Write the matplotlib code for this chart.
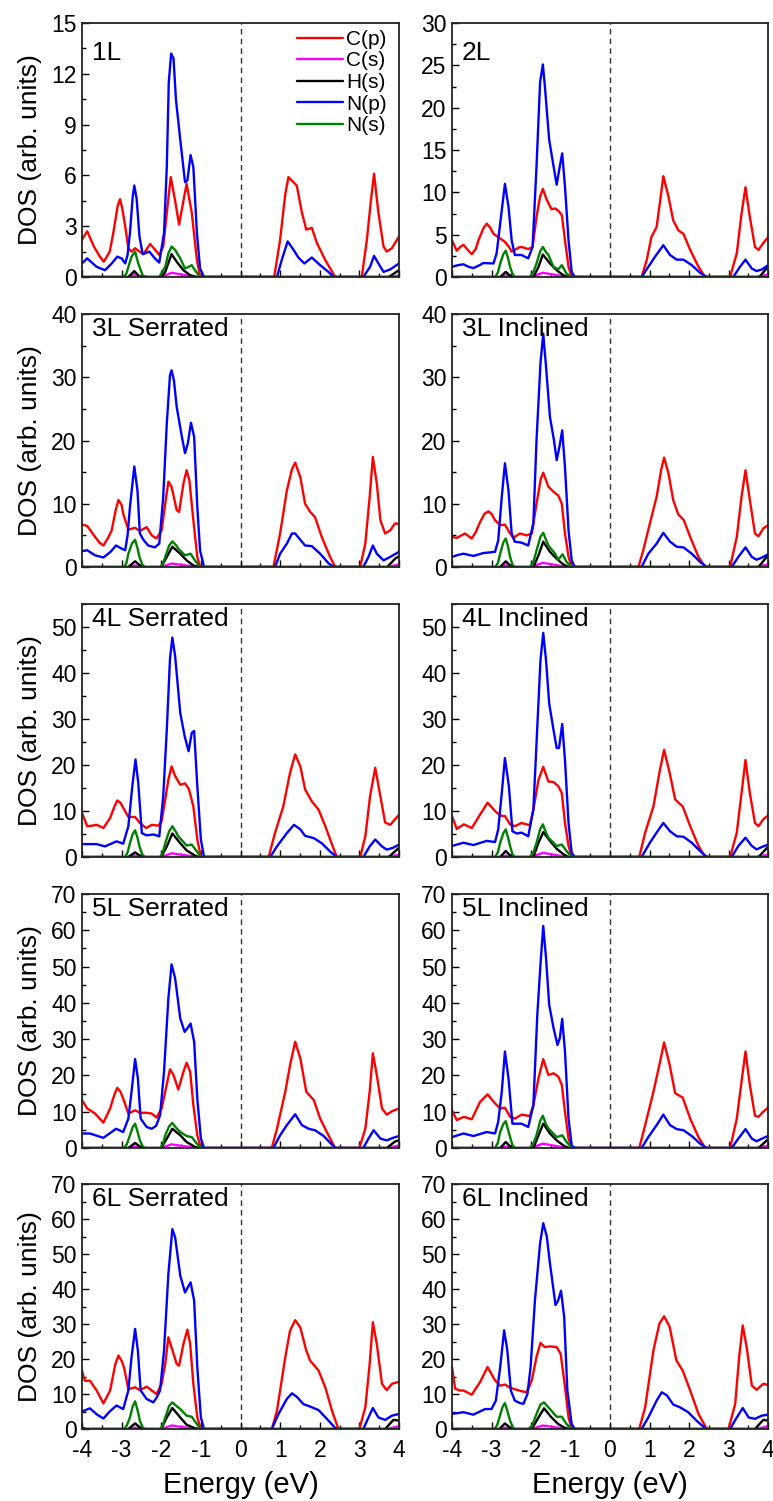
import matplotlib
matplotlib.use('Agg')
import matplotlib.pyplot as plt
from matplotlib.ticker import MultipleLocator

plt.rcParams['font.family'] = ['Liberation Sans', 'DejaVu Sans']
plt.rcParams['axes.unicode_minus'] = False

# ---------------- data: (energy eV, DOS) pairs ----------------
# 1L
CP_1L = [(-4.0,2.2),(-3.87,2.7),(-3.7,1.8),(-3.55,1.2),(-3.45,0.9),(-3.3,1.5),(-3.21,2.6),(-3.1,4.2),(-3.04,4.6),(-2.98,4.0),(-2.91,3.0),(-2.83,1.7),(-2.75,1.5),(-2.66,1.7),(-2.55,1.5),(-2.45,1.35),(-2.28,1.95),(-2.15,1.6),(-2.05,1.3),(-1.95,1.8),(-1.86,3.8),(-1.76,5.9),(-1.65,4.5),(-1.55,3.1),(-1.44,4.5),(-1.36,5.5),(-1.23,3.8),(-1.1,1.0),(-1.02,0),(0.85,0),(1.0,2.2),(1.13,4.9),(1.21,5.9),(1.42,5.4),(1.55,3.8),(1.66,2.8),(1.8,2.9),(1.93,2.0),(2.14,1.0),(2.39,0),(3.06,0),(3.19,2.2),(3.29,4.5),(3.37,6.1),(3.48,3.8),(3.61,1.8),(3.69,1.5),(3.82,1.7),(4.0,2.4)]
CS_1L = [(-4.0,0),(-2.85,0),(-2.67,0.15),(-2.5,0),(-2.0,0),(-1.74,0.25),(-1.5,0.15),(-1.25,0.05),(-1.1,0),(3.7,0),(4.0,0.08)]
HS_1L = [(-4.0,0),(-2.83,0),(-2.68,0.35),(-2.54,0),(-2.0,0),(-1.9,0.3),(-1.74,1.35),(-1.61,0.9),(-1.44,0.4),(-1.27,0.1),(-1.1,0),(3.74,0),(4.0,0.4)]
NP_1L = [(-4.0,0.8),(-3.87,1.1),(-3.63,0.6),(-3.42,0.4),(-3.25,0.8),(-3.11,1.2),(-3.0,1.1),(-2.91,0.8),(-2.85,1.3),(-2.79,2.6),(-2.72,4.75),(-2.68,5.4),(-2.62,4.6),(-2.55,2.4),(-2.47,1.35),(-2.3,1.5),(-2.16,1.1),(-2.05,0.85),(-1.93,2.6),(-1.86,6.5),(-1.81,11.5),(-1.75,13.2),(-1.69,12.9),(-1.63,10.5),(-1.52,8.1),(-1.4,5.6),(-1.34,5.7),(-1.26,7.2),(-1.19,6.5),(-1.1,2.6),(-1.02,0.5),(-0.92,0),(0.92,0),(1.04,1.0),(1.19,2.1),(1.34,1.6),(1.46,1.15),(1.61,0.8),(1.8,1.15),(2.01,0.7),(2.22,0.3),(2.35,0),(3.1,0),(3.27,0.6),(3.37,1.25),(3.48,0.8),(3.61,0.3),(3.78,0.45),(4.0,0.8)]
NS_1L = [(-4.0,0),(-2.96,0),(-2.88,0.2),(-2.83,0.6),(-2.75,1.2),(-2.66,1.5),(-2.58,0.8),(-2.47,0.1),(-2.37,0),(-2.05,0),(-1.9,0.6),(-1.82,1.4),(-1.74,1.8),(-1.65,1.6),(-1.52,1.1),(-1.4,0.5),(-1.31,0.6),(-1.23,0.7),(-1.15,0.4),(-1.02,0),(4.0,0)]

# 2L
CP_2L = [(-4.0,4.35),(-3.88,3.1),(-3.78,3.6),(-3.71,3.8),(-3.6,3.2),(-3.5,2.7),(-3.4,3.3),(-3.33,4.35),(-3.2,5.8),(-3.12,6.3),(-3.03,5.8),(-2.95,5.1),(-2.78,4.55),(-2.66,4.15),(-2.55,3.5),(-2.49,3.0),(-2.41,3.2),(-2.3,3.5),(-2.24,3.55),(-2.07,3.3),(-1.96,3.55),(-1.86,7.1),(-1.77,9.5),(-1.7,10.4),(-1.6,9.1),(-1.48,8.0),(-1.39,8.1),(-1.3,7.8),(-1.22,7.3),(-1.14,4.35),(-1.05,1.2),(-0.97,0),(0.8,0),(0.93,2.0),(1.05,4.75),(1.18,5.9),(1.27,9.0),(1.35,11.9),(1.48,9.5),(1.6,6.7),(1.73,5.5),(1.86,5.1),(2.03,3.2),(2.24,1.2),(2.41,0),(3.04,0),(3.21,2.8),(3.33,7.5),(3.43,10.6),(3.54,7.1),(3.67,3.55),(3.76,3.2),(3.88,4.0),(4.0,4.7)]
CS_2L = [(-4.0,0),(-2.8,0),(-2.65,0.2),(-2.5,0),(-2.0,0),(-1.7,0.5),(-1.45,0.3),(-1.2,0.1),(-1.05,0),(3.7,0),(4.0,0.3)]
HS_2L = [(-4.0,0),(-2.78,0),(-2.64,0.6),(-2.49,0),(-1.94,0),(-1.81,1.2),(-1.7,2.65),(-1.52,1.6),(-1.35,0.8),(-1.18,0.2),(-1.05,0),(3.78,0),(4.0,1.2)]
NP_2L = [(-4.0,1.2),(-3.85,1.4),(-3.71,1.5),(-3.58,1.2),(-3.46,1.05),(-3.3,1.4),(-3.21,1.65),(-2.95,1.6),(-2.87,2.8),(-2.76,7.1),(-2.66,11.0),(-2.57,8.3),(-2.49,4.35),(-2.41,2.6),(-2.24,2.6),(-2.07,2.2),(-1.96,3.55),(-1.86,13.1),(-1.77,23.0),(-1.7,25.1),(-1.65,22.6),(-1.54,16.2),(-1.43,13.1),(-1.35,10.9),(-1.27,13.1),(-1.21,14.6),(-1.14,10.7),(-1.05,4.35),(-0.97,0.6),(-0.89,0),(0.8,0),(0.97,1.2),(1.14,2.4),(1.35,3.75),(1.52,2.6),(1.69,2.05),(1.86,2.05),(2.07,1.4),(2.28,0.5),(2.45,0),(3.12,0),(3.29,1.2),(3.43,2.05),(3.59,1.0),(3.71,0.7),(3.85,0.9),(4.0,1.4)]
NS_2L = [(-4.0,0),(-2.91,0),(-2.84,0.5),(-2.78,1.6),(-2.7,2.7),(-2.64,3.1),(-2.58,2.2),(-2.53,1.2),(-2.47,0.4),(-2.41,0),(-2.03,0),(-1.94,0.6),(-1.86,1.6),(-1.77,3.0),(-1.7,3.55),(-1.63,3.0),(-1.56,2.6),(-1.43,1.2),(-1.31,0.9),(-1.22,1.4),(-1.1,0.4),(-0.97,0),(4.0,0)]

# 3L Serrated
CP_3LS = [(-4.0,6.7),(-3.87,6.5),(-3.67,4.75),(-3.55,3.8),(-3.46,3.4),(-3.35,4.5),(-3.25,5.8),(-3.15,9.0),(-3.08,10.6),(-3.0,9.8),(-2.96,8.4),(-2.83,5.9),(-2.66,6.2),(-2.54,5.7),(-2.37,6.3),(-2.24,5.0),(-2.12,4.5),(-1.99,5.8),(-1.9,10.0),(-1.82,13.5),(-1.74,12.7),(-1.61,9.0),(-1.55,8.7),(-1.44,13.2),(-1.36,15.3),(-1.29,13.7),(-1.19,7.4),(-1.09,1.6),(-1.02,0),(0.83,0),(1.0,5.3),(1.17,12.1),(1.3,15.5),(1.38,16.5),(1.51,14.2),(1.63,10.0),(1.76,8.7),(1.88,7.9),(2.05,4.75),(2.26,1.6),(2.39,0),(3.02,0),(3.15,3.7),(3.26,11.1),(3.34,17.4),(3.44,13.2),(3.53,7.4),(3.65,5.3),(3.78,5.8),(3.9,6.9),(4.0,6.8)]
CS_3LS = [(-4.0,0),(-2.85,0),(-2.66,0.25),(-2.5,0),(-2.0,0),(-1.74,0.55),(-1.5,0.35),(-1.2,0.1),(-1.05,0),(3.7,0),(4.0,0.4)]
HS_3LS = [(-4.0,0),(-2.83,0),(-2.66,0.9),(-2.49,0),(-2.0,0),(-1.86,1.6),(-1.72,3.2),(-1.52,2.1),(-1.36,1.05),(-1.19,0.25),(-1.06,0),(3.7,0),(3.9,1.3),(4.0,1.7)]
NP_3LS = [(-4.0,2.5),(-3.87,2.65),(-3.67,1.85),(-3.46,1.5),(-3.28,2.4),(-3.14,3.4),(-3.0,2.9),(-2.91,2.65),(-2.85,5.0),(-2.79,9.5),(-2.68,15.9),(-2.6,12.1),(-2.54,5.3),(-2.45,4.3),(-2.33,3.4),(-2.16,3.1),(-2.05,3.7),(-1.95,11.1),(-1.86,22.7),(-1.78,30.3),(-1.74,31.1),(-1.68,29.5),(-1.61,25.3),(-1.48,20.6),(-1.4,18.0),(-1.33,19.5),(-1.25,22.8),(-1.17,20.6),(-1.09,9.5),(-1.02,2.6),(-0.92,0),(0.87,0),(1.0,2.1),(1.17,3.7),(1.3,5.3),(1.38,5.3),(1.51,4.3),(1.63,3.4),(1.8,3.3),(2.01,2.1),(2.22,0.6),(2.35,0),(3.1,0),(3.23,1.6),(3.34,3.4),(3.44,2.1),(3.61,1.05),(3.78,1.6),(4.0,2.4)]
NS_3LS = [(-4.0,0),(-2.94,0),(-2.88,0.6),(-2.83,2.1),(-2.74,3.7),(-2.66,4.3),(-2.6,3.0),(-2.55,1.6),(-2.48,0.4),(-2.41,0),(-2.03,0),(-1.96,0.5),(-1.9,1.6),(-1.8,3.4),(-1.72,4.05),(-1.62,3.4),(-1.57,2.9),(-1.4,1.85),(-1.26,2.1),(-1.15,1.05),(-1.02,0),(4.0,0)]

# 3L Inclined
CP_3LI = [(-4.0,4.75),(-3.88,4.6),(-3.67,5.3),(-3.5,4.5),(-3.4,5.5),(-3.29,7.1),(-3.18,8.4),(-3.08,8.8),(-3.0,8.4),(-2.91,7.4),(-2.78,6.6),(-2.66,6.7),(-2.55,5.5),(-2.45,4.6),(-2.28,5.3),(-2.11,5.0),(-1.98,5.3),(-1.86,10.0),(-1.75,14.0),(-1.69,14.9),(-1.56,12.7),(-1.43,11.9),(-1.31,11.3),(-1.22,10.0),(-1.14,5.3),(-1.05,1.6),(-0.97,0),(0.72,0),(0.84,2.6),(1.01,6.9),(1.18,11.1),(1.3,15.5),(1.37,17.3),(1.48,14.8),(1.6,10.6),(1.73,8.3),(1.87,7.4),(2.03,4.75),(2.24,1.6),(2.41,0),(3.04,0),(3.21,4.75),(3.33,11.1),(3.43,15.3),(3.54,10.6),(3.67,5.3),(3.76,4.85),(3.88,6.1),(4.0,6.6)]
CS_3LI = [(-4.0,0),(-2.8,0),(-2.65,0.3),(-2.5,0),(-2.0,0),(-1.7,0.65),(-1.45,0.4),(-1.2,0.1),(-1.05,0),(3.7,0),(4.0,0.4)]
HS_3LI = [(-4.0,0),(-2.78,0),(-2.64,0.9),(-2.49,0),(-1.94,0),(-1.81,1.85),(-1.69,4.0),(-1.52,2.4),(-1.35,1.3),(-1.18,0.4),(-1.05,0),(3.76,0),(4.0,1.85)]
NP_3LI = [(-4.0,1.6),(-3.85,1.9),(-3.71,2.1),(-3.46,1.75),(-3.21,2.2),(-2.91,2.4),(-2.83,4.2),(-2.74,11.1),(-2.66,16.4),(-2.57,12.1),(-2.49,5.3),(-2.41,4.0),(-2.24,3.85),(-2.07,3.4),(-1.94,6.9),(-1.86,20.1),(-1.76,32.2),(-1.69,36.9),(-1.62,31.7),(-1.52,23.7),(-1.42,20.1),(-1.35,16.9),(-1.28,19.0),(-1.21,21.6),(-1.14,15.8),(-1.05,5.8),(-0.97,1.05),(-0.89,0),(0.8,0),(0.97,2.1),(1.18,3.7),(1.35,5.4),(1.52,4.0),(1.69,3.2),(1.86,3.1),(2.07,2.1),(2.28,0.8),(2.45,0),(3.08,0),(3.25,1.6),(3.43,3.1),(3.59,1.6),(3.71,1.15),(3.85,1.5),(4.0,2.0)]
NS_3LI = [(-4.0,0),(-2.91,0),(-2.84,0.6),(-2.78,2.1),(-2.7,3.9),(-2.64,4.5),(-2.58,3.2),(-2.53,1.6),(-2.47,0.4),(-2.41,0),(-2.03,0),(-1.94,0.8),(-1.86,2.6),(-1.76,4.8),(-1.69,5.4),(-1.62,4.3),(-1.56,3.4),(-1.39,2.1),(-1.31,1.15),(-1.2,2.0),(-1.1,0.8),(-0.97,0),(4.0,0)]

# 4L Serrated
CP_4LS = [(-4.0,9.6),(-3.87,6.7),(-3.75,6.8),(-3.63,7.0),(-3.46,6.3),(-3.29,8.5),(-3.18,11.0),(-3.11,12.3),(-3.03,11.8),(-2.96,10.7),(-2.83,8.7),(-2.66,8.7),(-2.54,7.4),(-2.38,6.3),(-2.24,7.0),(-2.07,6.8),(-1.99,7.8),(-1.9,12.5),(-1.82,16.8),(-1.74,19.7),(-1.65,17.6),(-1.52,15.7),(-1.4,16.0),(-1.3,14.7),(-1.19,11.0),(-1.09,3.8),(-1.0,0),(0.71,0),(0.87,5.2),(1.08,11.0),(1.25,18.3),(1.38,22.3),(1.51,19.7),(1.63,14.7),(1.8,12.1),(1.97,10.3),(2.14,6.7),(2.31,2.7),(2.43,0),(3.02,0),(3.15,4.5),(3.27,13.2),(3.4,19.4),(3.53,13.2),(3.65,7.5),(3.78,7.0),(4.0,9.2)]
CS_4LS = [(-4.0,0),(-2.85,0),(-2.66,0.3),(-2.5,0),(-2.0,0),(-1.74,0.8),(-1.5,0.5),(-1.2,0.15),(-1.05,0),(3.7,0),(4.0,0.5)]
HS_4LS = [(-4.0,0),(-2.83,0),(-2.66,1.0),(-2.49,0),(-2.0,0),(-1.86,2.3),(-1.72,5.1),(-1.52,3.0),(-1.36,1.45),(-1.15,0.3),(-1.05,0),(3.74,0),(4.0,2.0)]
NP_4LS = [(-4.0,2.8),(-3.63,2.8),(-3.42,2.3),(-3.13,3.4),(-2.96,2.9),(-2.83,6.7),(-2.73,15.4),(-2.65,21.2),(-2.58,16.1),(-2.49,5.2),(-2.37,4.7),(-2.2,4.9),(-2.05,4.5),(-1.95,13.2),(-1.86,27.7),(-1.78,43.0),(-1.72,47.7),(-1.65,43.7),(-1.52,31.3),(-1.41,26.3),(-1.31,23.0),(-1.23,27.0),(-1.17,27.4),(-1.09,15.4),(-1.0,3.8),(-0.92,0),(0.75,0),(0.92,2.3),(1.17,5.2),(1.35,7.0),(1.51,6.0),(1.63,4.6),(1.85,4.1),(2.05,3.0),(2.26,1.2),(2.43,0),(3.1,0),(3.26,2.3),(3.4,3.8),(3.57,2.3),(3.69,1.6),(3.85,2.0),(4.0,2.7)]
NS_4LS = [(-4.0,0),(-2.91,0),(-2.85,1.0),(-2.79,3.0),(-2.72,5.0),(-2.66,5.8),(-2.6,4.2),(-2.55,2.3),(-2.48,0.6),(-2.41,0),(-2.03,0),(-1.96,1.0),(-1.9,3.0),(-1.8,5.6),(-1.72,6.7),(-1.62,5.3),(-1.57,4.5),(-1.36,2.5),(-1.23,2.7),(-1.1,1.2),(-1.0,0),(4.0,0)]

# 4L Inclined
CP_4LI = [(-4.0,8.9),(-3.88,6.1),(-3.7,7.1),(-3.5,6.3),(-3.29,9.2),(-3.1,11.8),(-2.91,10.0),(-2.78,9.0),(-2.66,8.9),(-2.53,7.1),(-2.41,6.7),(-2.24,7.4),(-2.03,6.9),(-1.94,10.3),(-1.81,16.8),(-1.69,19.6),(-1.56,16.4),(-1.43,16.3),(-1.31,15.4),(-1.22,13.9),(-1.14,7.4),(-1.05,2.4),(-0.97,0),(0.74,0),(0.89,5.3),(1.1,11.0),(1.25,18.3),(1.37,23.3),(1.51,18.3),(1.65,12.5),(1.84,11.0),(2.03,6.7),(2.24,2.4),(2.41,0),(3.04,0),(3.21,5.3),(3.33,13.9),(3.43,21.1),(3.54,13.9),(3.67,7.4),(3.76,6.7),(3.88,8.2),(4.0,9.0)]
CS_4LI = [(-4.0,0),(-2.8,0),(-2.65,0.3),(-2.5,0),(-2.0,0),(-1.7,0.9),(-1.45,0.55),(-1.2,0.15),(-1.05,0),(3.7,0),(4.0,0.5)]
HS_4LI = [(-4.0,0),(-2.78,0),(-2.64,1.3),(-2.49,0),(-1.94,0),(-1.81,3.1),(-1.69,5.4),(-1.52,3.5),(-1.35,1.8),(-1.18,0.6),(-1.05,0),(3.76,0),(4.0,2.2)]
NP_4LI = [(-4.0,2.4),(-3.71,3.1),(-3.46,2.6),(-3.12,3.5),(-2.91,3.25),(-2.83,6.0),(-2.74,13.9),(-2.66,21.5),(-2.56,15.4),(-2.47,5.6),(-2.36,5.1),(-2.24,5.3),(-2.07,4.5),(-1.94,10.3),(-1.84,28.4),(-1.76,42.8),(-1.69,48.7),(-1.62,42.8),(-1.54,33.4),(-1.43,27.6),(-1.35,23.7),(-1.29,23.7),(-1.21,28.9),(-1.14,21.1),(-1.05,7.4),(-0.97,0.9),(-0.89,0),(0.8,0),(1.01,3.1),(1.18,5.3),(1.35,7.4),(1.52,5.6),(1.69,4.5),(1.86,4.4),(2.07,3.1),(2.28,1.3),(2.45,0),(3.08,0),(3.25,2.4),(3.43,4.2),(3.59,2.4),(3.71,1.65),(3.85,2.2),(4.0,2.7)]
NS_4LI = [(-4.0,0),(-2.91,0),(-2.84,1.0),(-2.78,3.1),(-2.7,5.2),(-2.64,6.0),(-2.58,4.2),(-2.53,2.4),(-2.47,0.6),(-2.41,0),(-2.03,0),(-1.94,1.0),(-1.86,3.1),(-1.77,6.0),(-1.7,7.1),(-1.62,5.3),(-1.56,4.2),(-1.35,2.4),(-1.22,2.7),(-1.1,1.3),(-0.97,0),(4.0,0)]

# 5L Serrated
CP_5LS = [(-4.0,13.2),(-3.87,10.9),(-3.67,9.5),(-3.46,7.0),(-3.29,10.9),(-3.18,14.8),(-3.11,16.6),(-3.03,15.5),(-2.96,13.6),(-2.83,9.5),(-2.66,10.4),(-2.54,9.7),(-2.37,9.7),(-2.24,9.5),(-2.12,8.4),(-1.99,10.9),(-1.9,15.5),(-1.78,21.7),(-1.69,20.1),(-1.57,16.1),(-1.44,21.0),(-1.36,23.5),(-1.27,21.0),(-1.19,11.8),(-1.09,3.5),(-1.0,0),(0.79,0),(0.92,5.3),(1.13,15.5),(1.25,22.8),(1.38,29.3),(1.51,24.7),(1.66,15.5),(1.85,13.2),(2.01,8.1),(2.22,3.5),(2.39,0),(3.0,0),(3.15,5.3),(3.26,15.5),(3.34,26.1),(3.44,20.1),(3.57,10.9),(3.69,9.2),(3.82,10.1),(4.0,10.9)]
CS_5LS = [(-4.0,0),(-2.85,0),(-2.66,0.4),(-2.5,0),(-2.0,0),(-1.74,1.0),(-1.5,0.6),(-1.2,0.2),(-1.05,0),(3.7,0),(4.0,0.7)]
HS_5LS = [(-4.0,0),(-2.83,0),(-2.66,1.4),(-2.49,0),(-2.0,0),(-1.86,2.6),(-1.72,5.3),(-1.52,3.5),(-1.36,1.65),(-1.15,0.3),(-1.05,0),(3.69,0),(3.9,1.8),(4.0,2.1)]
NP_5LS = [(-4.0,4.0),(-3.8,4.0),(-3.46,2.8),(-3.14,5.3),(-2.96,4.4),(-2.83,8.1),(-2.75,15.5),(-2.66,24.5),(-2.59,19.2),(-2.52,8.1),(-2.37,5.8),(-2.24,5.3),(-2.13,6.1),(-2.03,9.0),(-1.93,21.0),(-1.82,41.3),(-1.74,50.6),(-1.65,46.8),(-1.52,35.7),(-1.41,32.0),(-1.34,33.0),(-1.26,34.3),(-1.17,29.3),(-1.09,13.6),(-1.0,2.6),(-0.92,0),(0.83,0),(1.0,3.5),(1.17,6.3),(1.38,9.3),(1.55,6.3),(1.72,5.3),(1.88,4.9),(2.1,3.3),(2.31,0.9),(2.39,0),(3.1,0),(3.23,2.6),(3.36,4.9),(3.53,2.6),(3.69,2.1),(3.85,2.8),(4.0,3.3)]
NS_5LS = [(-4.0,0),(-2.94,0),(-2.87,1.0),(-2.79,3.5),(-2.72,5.8),(-2.66,6.7),(-2.6,4.6),(-2.54,2.1),(-2.47,0.5),(-2.41,0),(-2.03,0),(-1.96,1.0),(-1.9,3.5),(-1.8,6.0),(-1.72,6.9),(-1.62,5.5),(-1.52,4.4),(-1.36,3.3),(-1.23,3.0),(-1.1,1.2),(-1.0,0),(4.0,0)]

# 5L Inclined
CP_5LI = [(-4.0,10.4),(-3.88,7.7),(-3.7,8.6),(-3.5,7.9),(-3.29,12.7),(-3.1,14.8),(-2.91,12.3),(-2.78,10.9),(-2.66,11.1),(-2.53,8.6),(-2.41,8.1),(-2.24,9.2),(-2.03,8.8),(-1.94,11.8),(-1.81,19.2),(-1.69,24.5),(-1.56,20.1),(-1.43,20.6),(-1.31,19.7),(-1.22,17.4),(-1.14,10.0),(-1.05,2.6),(-0.97,0),(0.74,0),(0.89,6.3),(1.1,15.5),(1.25,22.9),(1.37,29.1),(1.51,22.9),(1.65,15.1),(1.84,13.9),(2.03,8.1),(2.24,3.0),(2.41,0),(3.04,0),(3.21,8.1),(3.33,18.3),(3.43,26.6),(3.54,17.4),(3.67,8.9),(3.76,8.6),(3.88,10.0),(4.0,11.1)]
CS_5LI = [(-4.0,0),(-2.8,0),(-2.65,0.4),(-2.5,0),(-2.0,0),(-1.7,1.2),(-1.45,0.7),(-1.2,0.2),(-1.05,0),(3.7,0),(4.0,0.6)]
HS_5LI = [(-4.0,0),(-2.78,0),(-2.64,1.65),(-2.49,0),(-1.94,0),(-1.81,3.5),(-1.69,6.7),(-1.52,4.0),(-1.35,2.1),(-1.18,0.7),(-1.05,0),(3.76,0),(4.0,2.4)]
NP_5LI = [(-4.0,3.0),(-3.71,4.0),(-3.46,3.3),(-3.12,4.4),(-2.91,4.0),(-2.83,7.2),(-2.74,15.5),(-2.66,26.6),(-2.57,19.2),(-2.47,6.7),(-2.24,6.7),(-2.07,5.8),(-1.94,11.8),(-1.84,36.8),(-1.76,50.6),(-1.69,61.2),(-1.62,52.4),(-1.54,39.5),(-1.43,33.1),(-1.33,28.4),(-1.27,30.3),(-1.21,35.6),(-1.14,26.6),(-1.05,8.1),(-0.97,0.7),(-0.89,0),(0.8,0),(0.97,3.0),(1.18,6.3),(1.35,9.2),(1.52,6.3),(1.69,5.2),(1.86,4.9),(2.07,3.3),(2.28,1.2),(2.45,0),(3.08,0),(3.25,2.6),(3.43,5.2),(3.59,2.6),(3.71,1.85),(3.85,2.6),(4.0,3.3)]
NS_5LI = [(-4.0,0),(-2.91,0),(-2.84,1.4),(-2.78,4.4),(-2.7,6.6),(-2.64,7.4),(-2.58,5.0),(-2.53,3.0),(-2.47,0.8),(-2.41,0),(-2.03,0),(-1.94,1.2),(-1.86,3.5),(-1.77,7.4),(-1.7,8.9),(-1.62,6.5),(-1.56,5.4),(-1.35,3.0),(-1.21,3.5),(-1.1,1.7),(-0.97,0),(4.0,0)]

# 6L Serrated
CP_6LS = [(-4.0,16.7),(-3.93,13.8),(-3.8,13.8),(-3.63,11.0),(-3.46,7.3),(-3.29,11.0),(-3.16,18.5),(-3.08,21.0),(-3.0,19.5),(-2.94,17.6),(-2.83,11.4),(-2.66,11.9),(-2.54,11.1),(-2.37,12.1),(-2.24,11.0),(-2.12,10.0),(-1.99,12.9),(-1.9,18.6),(-1.82,26.2),(-1.74,23.3),(-1.61,18.6),(-1.55,18.1),(-1.44,24.3),(-1.34,28.4),(-1.27,24.3),(-1.19,12.9),(-1.09,3.3),(-1.0,0),(0.79,0),(0.92,5.2),(1.13,20.5),(1.25,28.1),(1.38,31.1),(1.51,29.0),(1.66,22.4),(1.76,19.5),(1.97,16.7),(2.14,11.9),(2.31,5.2),(2.47,0),(3.0,0),(3.15,6.2),(3.26,18.6),(3.34,30.5),(3.44,24.3),(3.57,12.9),(3.69,11.1),(3.82,12.9),(4.0,13.5)]
CS_6LS = [(-4.0,0),(-2.85,0),(-2.66,0.4),(-2.5,0),(-2.0,0),(-1.74,1.0),(-1.5,0.6),(-1.2,0.2),(-1.05,0),(3.7,0),(4.0,0.8)]
HS_6LS = [(-4.0,0.4),(-3.9,0),(-2.83,0),(-2.66,1.6),(-2.49,0),(-2.0,0),(-1.86,3.3),(-1.72,6.0),(-1.52,3.3),(-1.36,1.2),(-1.15,0.2),(-1.05,0),(3.65,0),(3.86,2.6),(4.0,2.4)]
NP_6LS = [(-4.0,5.0),(-3.8,5.9),(-3.63,4.2),(-3.46,3.0),(-3.3,5.0),(-3.13,6.7),(-2.96,5.7),(-2.83,11.0),(-2.75,20.5),(-2.66,28.6),(-2.59,22.4),(-2.52,11.0),(-2.37,8.6),(-2.2,7.6),(-2.12,8.9),(-2.03,11.0),(-1.93,22.4),(-1.82,44.3),(-1.72,57.1),(-1.65,54.8),(-1.52,43.8),(-1.4,39.0),(-1.33,40.5),(-1.26,41.9),(-1.17,36.7),(-1.09,17.6),(-1.0,3.3),(-0.92,0),(0.79,0),(0.96,4.3),(1.17,8.6),(1.3,10.2),(1.42,9.2),(1.59,7.1),(1.76,6.4),(1.97,5.4),(2.18,2.9),(2.39,0.3),(2.47,0),(3.1,0),(3.23,3.3),(3.34,6.0),(3.48,3.3),(3.65,2.6),(3.82,3.8),(4.0,4.3)]
NS_6LS = [(-4.0,0),(-2.94,0),(-2.87,1.0),(-2.79,3.3),(-2.72,6.5),(-2.66,7.9),(-2.6,5.5),(-2.54,2.4),(-2.47,0.5),(-2.41,0),(-2.03,0),(-1.96,1.0),(-1.9,3.3),(-1.8,6.6),(-1.72,7.6),(-1.62,6.6),(-1.52,5.7),(-1.36,3.8),(-1.23,3.5),(-1.1,1.4),(-1.0,0),(4.0,0)]

# 6L Inclined
CP_6LI = [(-4.0,17.7),(-3.92,11.5),(-3.8,11.0),(-3.71,11.0),(-3.5,9.8),(-3.29,13.4),(-3.1,17.7),(-2.91,13.9),(-2.78,12.4),(-2.66,12.7),(-2.53,11.8),(-2.36,11.2),(-2.24,10.8),(-2.11,10.5),(-1.98,13.9),(-1.86,20.6),(-1.76,24.6),(-1.65,23.4),(-1.52,23.6),(-1.35,23.4),(-1.25,21.5),(-1.16,13.9),(-1.05,3.3),(-0.97,0),(0.74,0),(0.89,6.2),(1.1,22.5),(1.25,30.1),(1.37,32.2),(1.51,29.2),(1.68,19.6),(1.84,16.7),(2.03,11.0),(2.24,4.3),(2.45,0),(3.0,0),(3.17,7.2),(3.27,20.6),(3.36,29.6),(3.46,23.4),(3.59,12.4),(3.71,11.2),(3.88,12.9),(4.0,12.6)]
CS_6LI = [(-4.0,0),(-2.8,0),(-2.66,0.4),(-2.5,0),(-2.0,0),(-1.7,1.0),(-1.45,0.6),(-1.2,0.2),(-1.05,0),(3.7,0),(4.0,0.8)]
HS_6LI = [(-4.0,0),(-2.8,0),(-2.66,1.6),(-2.49,0),(-1.98,0),(-1.81,3.3),(-1.67,5.9),(-1.48,3.3),(-1.31,1.4),(-1.14,0.3),(-1.02,0),(3.67,0),(3.88,2.6),(4.0,2.4)]
NP_6LI = [(-4.0,4.3),(-3.71,4.8),(-3.46,4.1),(-3.16,5.7),(-3.0,5.7),(-2.89,8.1),(-2.78,17.7),(-2.68,28.2),(-2.6,22.5),(-2.51,11.0),(-2.41,8.1),(-2.28,7.4),(-2.19,7.2),(-2.09,10.0),(-2.01,17.7),(-1.9,36.8),(-1.77,53.1),(-1.69,58.8),(-1.6,55.0),(-1.52,47.3),(-1.43,39.7),(-1.38,35.4),(-1.31,36.8),(-1.24,39.5),(-1.16,32.0),(-1.08,11.0),(-0.97,1.4),(-0.89,0),(0.8,0),(0.97,3.3),(1.18,8.1),(1.31,10.5),(1.44,9.6),(1.6,7.0),(1.77,6.2),(1.98,4.8),(2.19,2.4),(2.41,0.2),(2.45,0),(3.04,0),(3.21,3.3),(3.36,6.0),(3.51,3.3),(3.67,2.9),(3.84,3.8),(4.0,4.1)]
NS_6LI = [(-4.0,0),(-2.93,0),(-2.86,1.0),(-2.8,3.3),(-2.72,6.3),(-2.66,7.4),(-2.6,5.2),(-2.53,2.4),(-2.46,0.5),(-2.41,0),(-2.07,0),(-1.97,1.0),(-1.86,4.3),(-1.76,7.0),(-1.67,7.6),(-1.58,6.4),(-1.52,5.7),(-1.35,3.5),(-1.22,3.5),(-1.1,1.4),(-0.97,0),(4.0,0)]

SERIES_LABELS = ['C(p)', 'C(s)', 'H(s)', 'N(p)', 'N(s)']
SERIES_COLORS = ['#ff0000', '#ff00ff', '#000000', '#0000ff', '#008000']
PANEL_LABELS = ['1L', '2L', '3L Serrated', '3L Inclined', '4L Serrated', '4L Inclined',
                '5L Serrated', '5L Inclined', '6L Serrated', '6L Inclined']
YMAX = [15, 30, 40, 40, 55, 55, 70, 70, 70, 70]
YSTEP = [3, 5, 10, 10, 10, 10, 10, 10, 10, 10]
XTICKS = [-4, -3, -2, -1, 0, 1, 2, 3, 4]

panel_series = [
    [CP_1L, CS_1L, HS_1L, NP_1L, NS_1L],
    [CP_2L, CS_2L, HS_2L, NP_2L, NS_2L],
    [CP_3LS, CS_3LS, HS_3LS, NP_3LS, NS_3LS],
    [CP_3LI, CS_3LI, HS_3LI, NP_3LI, NS_3LI],
    [CP_4LS, CS_4LS, HS_4LS, NP_4LS, NS_4LS],
    [CP_4LI, CS_4LI, HS_4LI, NP_4LI, NS_4LI],
    [CP_5LS, CS_5LS, HS_5LS, NP_5LS, NS_5LS],
    [CP_5LI, CS_5LI, HS_5LI, NP_5LI, NS_5LI],
    [CP_6LS, CS_6LS, HS_6LS, NP_6LS, NS_6LS],
    [CP_6LI, CS_6LI, HS_6LI, NP_6LI, NS_6LI],
]

W, H = 773, 1501
fig = plt.figure(figsize=(W / 100, H / 100), dpi=100)

ROWS = [(23, 277), (314, 567), (604, 857), (894, 1148), (1184, 1429)]
COLS = [(82, 399), (452, 768)]
LABEL_DY = [23, 23, 8, 8, 8, 8, 8, 8, 8, 8]

for i, series in enumerate(panel_series):
    r, c = divmod(i, 2)
    top, bot = ROWS[r]
    left, right = COLS[c]
    ax = fig.add_axes([left / W, 1 - bot / H, (right - left) / W, (bot - top) / H])
    hpx = bot - top
    wpx = right - left
    ax.axvline(0, color='#333333', lw=1.0, ls=(0, (4, 3)), zorder=1)
    for s, name, color in zip(series, SERIES_LABELS, SERIES_COLORS):
        xs = [p[0] for p in s]
        ys = [p[1] for p in s]
        ax.plot(xs, ys, color=color, lw=1.7, label=name, solid_joinstyle='round',
                solid_capstyle='round', zorder=2)
    ax.set_xlim(-4, 4)
    ax.set_ylim(0, YMAX[i])
    ax.set_xticks(XTICKS)
    ax.xaxis.set_minor_locator(MultipleLocator(0.5))
    ax.yaxis.set_major_locator(MultipleLocator(YSTEP[i]))
    ax.yaxis.set_minor_locator(MultipleLocator(YSTEP[i] / 2))
    ax.tick_params(which='both', direction='in', top=False, right=False, width=1.0,
                   labelsize=16.5, colors='black')
    ax.tick_params(which='major', length=5, pad=4)
    ax.tick_params(which='minor', length=3)
    ax.tick_params(axis='x', which='major', pad=7)
    for sp in ax.spines.values():
        sp.set_linewidth(1.3)
        sp.set_color('#222222')
    if r < 4:
        ax.tick_params(labelbottom=False)
    else:
        ax.set_xlabel('Energy (eV)', fontsize=21, labelpad=7)
    if c == 0:
        ax.set_ylabel('DOS (arb. units)', fontsize=19)
        ax.yaxis.set_label_coords(-40 / wpx, 0.5)
    ax.text(10 / wpx, 1 - (LABEL_DY[i] - 5) / hpx, PANEL_LABELS[i], transform=ax.transAxes,
            ha='left', va='top', fontsize=19)
    if i == 0:
        ax.legend(loc='upper right', bbox_to_anchor=(1 - 12 / wpx, 1 - 7 / hpx),
                  frameon=False, fontsize=15, handlelength=2.2, handletextpad=0.15,
                  labelspacing=0.12, borderpad=0, borderaxespad=0)

fig.savefig('out.png', dpi=100)
